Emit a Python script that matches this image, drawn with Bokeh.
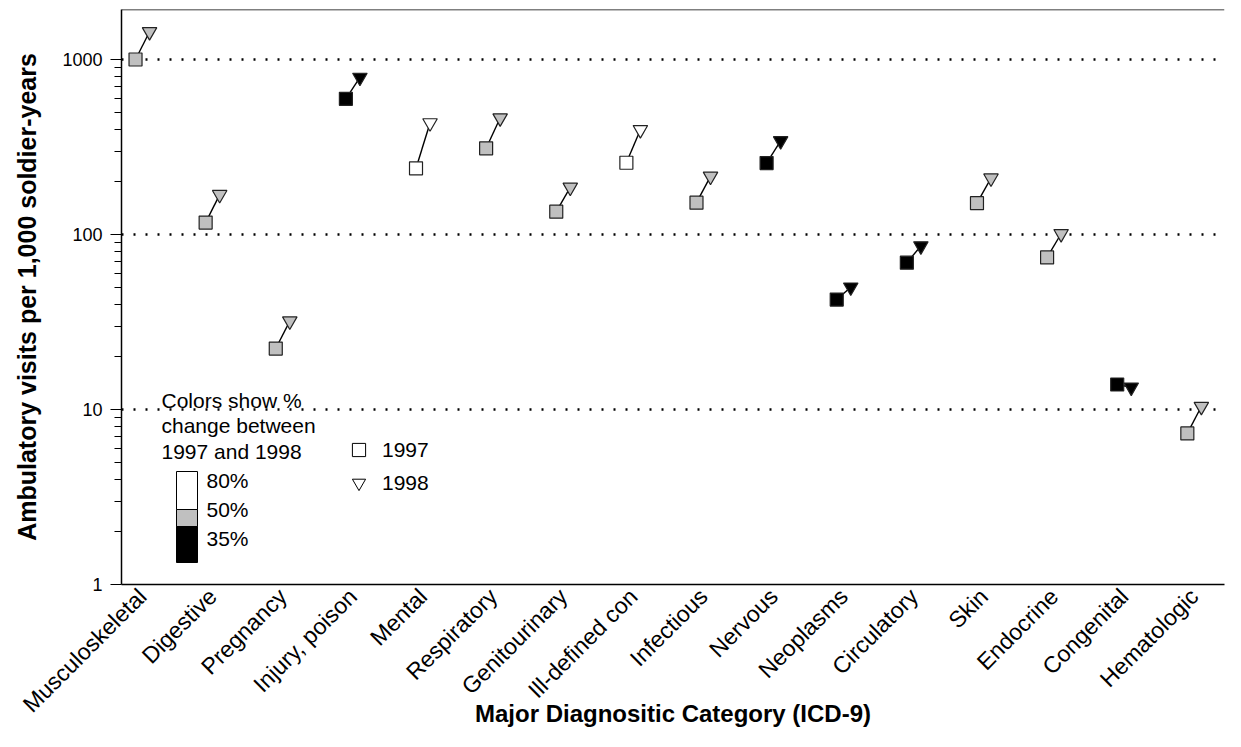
import math
from bokeh.plotting import figure
from bokeh.models import (Range1d, FixedTicker, NumeralTickFormatter, Span, Label,
                          BoxAnnotation, Legend, LegendItem, ColumnDataSource)
from bokeh.embed import file_html
from bokeh.resources import INLINE

# ---------------- data ----------------
categories = ["Musculoskeletal", "Digestive", "Pregnancy", "Injury, poison", "Mental",
              "Respiratory", "Genitourinary", "Ill-defined con", "Infectious", "Nervous",
              "Neoplasms", "Circulatory", "Skin", "Endocrine", "Congenital", "Hematologic"]
visits_1997 = [1000, 117, 22.3, 596, 239, 311, 135, 257, 152, 256, 42.5, 69, 151, 74, 13.9, 7.3]
visits_1998 = [1440, 169, 32, 790, 434, 463, 186, 397, 215, 343, 50, 86, 210, 101, 13.4, 10.4]
change_thresholds = [35, 50]          # % change class limits
scale_labels = ["80%", "50%", "35%"]
y_ticks = [1, 10, 100, 1000]
y_minor = [m * d for d in (1, 10, 100, 1000) for m in range(2, 10)]

GRAY = "#c0c0c0"
FONT = "Liberation Sans"

pct = [(b / a - 1) * 100 for a, b in zip(visits_1997, visits_1998)]
colors = ["white" if c >= change_thresholds[1] else (GRAY if c >= change_thresholds[0] else "black")
          for c in pct]
idx = list(range(len(categories)))
x97 = [i - 0.1 for i in idx]
x98 = [i + 0.1 for i in idx]

src = ColumnDataSource(dict(x97=x97, x98=x98, y97=visits_1997, y98=visits_1998, c=colors))

p = figure(width=1225, height=731, y_axis_type="log",
           x_range=Range1d(-0.30, 15.43), y_range=Range1d(1, 1931),
           output_backend="svg", toolbar_location=None,
           min_border_left=121, min_border_right=1, min_border_top=9, min_border_bottom=147)
p.outline_line_color = None
p.background_fill_color = "white"
p.border_fill_color = "white"

# segments and markers
p.segment(x0="x97", y0="y97", x1="x98", y1="y98", source=src, line_color="black", line_width=1.4)
p.scatter(x="x97", y="y97", source=src, marker="square", size=13,
          fill_color="c", line_color="#222222", line_width=1.2)
p.scatter(x="x98", y="y98", source=src, marker="inverted_triangle", size=14.5,
          fill_color="c", line_color="#222222", line_width=1.2)

# grid
p.xgrid.visible = False
p.ygrid.ticker = FixedTicker(ticks=[10, 100, 1000])
p.ygrid.grid_line_color = "black"
p.ygrid.grid_line_dash = "2 10"
p.ygrid.grid_line_width = 2.5

# top border line
p.add_layout(Span(location=1931, dimension="width", line_color="black", line_width=1.5))

# y axis
ya = p.yaxis[0]
ya.ticker = FixedTicker(ticks=y_ticks, minor_ticks=y_minor)
ya.formatter = NumeralTickFormatter(format="0")
ya.major_tick_in = 0
ya.major_tick_out = 11
ya.minor_tick_in = 0
ya.minor_tick_out = 7
ya.axis_line_width = 1.5
ya.major_tick_line_width = 1.2
ya.minor_tick_line_width = 1.2
ya.major_label_text_font = FONT
ya.major_label_text_font_size = "18px"
ya.major_label_text_color = "black"
ya.major_label_standoff = 8
ya.axis_label = "Ambulatory visits per 1,000 soldier-years"
ya.axis_label_text_font = FONT
ya.axis_label_text_font_size = "25px"
ya.axis_label_text_font_style = "bold"
ya.axis_label_text_color = "black"
ya.axis_label_standoff = 18

# x axis
xa = p.xaxis[0]
xa.ticker = FixedTicker(ticks=idx)
xa.major_label_overrides = {i: c for i, c in zip(idx, categories)}
xa.major_label_orientation = math.pi / 4
xa.major_tick_line_color = None
xa.minor_tick_line_color = None
xa.major_tick_out = 0
xa.major_tick_in = 0
xa.axis_line_width = 1.5
xa.major_label_text_font = FONT
xa.major_label_text_font_size = "23px"
xa.major_label_text_color = "black"
xa.major_label_standoff = 8
xa.axis_label = "Major Diagnositic Category (ICD-9)"
xa.axis_label_text_font = FONT
xa.axis_label_text_font_size = "24px"
xa.axis_label_text_font_style = "bold"
xa.axis_label_text_color = "black"
xa.axis_label_standoff = -30

# ---- legend: colour scale ----
for i, line in enumerate(["Colors show %", "change between", "1997 and 1998"]):
    p.add_layout(Label(x=40, y=184 - 25.3 * i, x_units="screen", y_units="screen", text=line,
                       text_font=FONT, text_font_size="21px", text_color="black",
                       text_baseline="middle"))
for (b, t, col) in [(75, 113, "white"), (58, 75, GRAY), (22, 58, "black")]:
    p.add_layout(BoxAnnotation(left=55, right=76, bottom=b, top=t,
                               left_units="screen", right_units="screen",
                               bottom_units="screen", top_units="screen",
                               fill_color=col, fill_alpha=1, line_color="black", line_width=1,
                               line_alpha=1))
for lab, yy in zip(scale_labels, [104.3, 75.3, 46.3]):
    p.add_layout(Label(x=85, y=yy, x_units="screen", y_units="screen", text=lab,
                       text_font=FONT, text_font_size="21px", text_color="black",
                       text_baseline="middle"))

# ---- legend: symbols ----
nan = float("nan")
r1 = p.scatter(x=[nan], y=[nan], marker="square", size=13, fill_color="white",
               line_color="black", line_width=1)
r2 = p.scatter(x=[nan], y=[nan], marker="inverted_triangle", size=13, fill_color="white",
               line_color="black", line_width=1)
leg = Legend(items=[LegendItem(label="1997", renderers=[r1]), LegendItem(label="1998", renderers=[r2])],
             location=(221, 85), glyph_width=33, glyph_height=33, spacing=0, padding=0, margin=0,
             label_standoff=7, border_line_color=None, background_fill_alpha=0,
             label_text_font=FONT, label_text_font_size="21px", label_text_color="black",
             label_height=33)
p.add_layout(leg)

open("out.html", "w").write(file_html(p, INLINE))
